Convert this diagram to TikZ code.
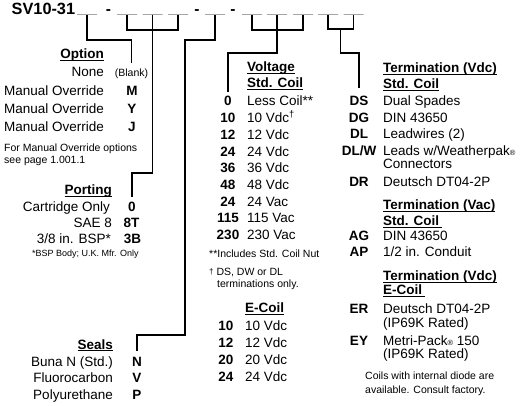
\documentclass[tikz,border=0pt]{standalone}
\usepackage{fontspec}
\setmainfont{Liberation Sans}
\usepackage{tikz}
\usetikzlibrary{calc}

% bold heading with a rule close under the baseline
\newcommand\uln[1]{\setbox0\hbox{#1}\rlap{\rule[-2.4pt]{\wd0}{1.2pt}}\box0}

\tikzset{
  % --- Ma dat hang ------------------------------------------
  partno/.style={anchor=base west, inner sep=0pt,
    font=\bfseries\fontsize{16.3}{19}\selectfont},
  dashmark/.style={anchor=base, inner sep=0pt,
    font=\bfseries\fontsize{15.5}{18}\selectfont},
  blank/.style={draw, line width=1pt, minimum width=20pt,
    minimum height=0pt, inner sep=0pt, outer sep=0pt},
  lead/.style={line width=1.2pt},
  % --- Bang tra ---------------------------------------------
  hdrl/.style={anchor=base east, inner sep=0pt,
    font=\bfseries\fontsize{13.5}{16}\selectfont},
  hdrr/.style={anchor=base west, inner sep=0pt,
    font=\bfseries\fontsize{13.5}{16}\selectfont},
  lab/.style={anchor=base east, inner sep=0pt,
    font=\fontsize{13.5}{16}\selectfont},
  desc/.style={anchor=base west, inner sep=0pt,
    font=\fontsize{13.5}{16}\selectfont},
  code/.style={anchor=base, inner sep=0pt,
    font=\bfseries\fontsize{13.5}{16}\selectfont},
  note/.style={anchor=base west, inner sep=0pt,
    font=\fontsize{10.5}{12}\selectfont},
  notes/.style={anchor=base west, inner sep=0pt,
    font=\fontsize{9}{11}\selectfont}
}

\begin{document}
\begin{tikzpicture}[x=1pt, y=-1pt]
  \useasboundingbox (0,0) rectangle (520,406);

  % ---------- Ma san pham ----------
  \node[partno] (pn) at (11.5,15) {SV10-31};
  \node[blank] (o1) at (87,15) {};
  \node[dashmark] (d1) at (108.5,14.5) {-};
  \node[blank] (p1) at (127,15) {};
  \node[blank] (p2) at (152.5,15) {};
  \node[blank] (p3) at (178,15) {};
  \node[dashmark] (d2) at (197,14.5) {-};
  \node[blank] (s1) at (215,15) {};
  \node[dashmark] (d3) at (233,14.5) {-};
  \node[blank] (v1) at (252,15) {};
  \node[blank] (v2) at (277,15) {};
  \node[blank] (v3) at (303,15) {};
  \node[blank] (t1) at (328,15) {};
  \node[blank] (t2) at (353.5,15) {};

  % ---------- Option ----------
  \node[hdrl] (oh) at (104,59) {\uln{Option}};
  \node[lab] (ol0) at (104,77) {None};
  \node[code, font=\fontsize{10.5}{12}\selectfont] (oc0) at (131.5,77) {(Blank)};
  \foreach \c [count=\i] in {M, Y, J}{
    \node[lab] (ol\i) at (104,78+18*\i) {Manual Override};
    \node[code] (oc\i) at (132,78+18*\i) {\c};
  }
  \node[note] (on1) at (4,152) {For Manual Override options};
  \node[note] (on2) at (4,164) {see page 1.001.1};

  % ---------- Porting ----------
  \node[hdrl] (ph) at (112,195) {\uln{Porting}};
  \node[lab] (pl1) at (110,212) {Cartridge Only};
  \node[code] (pc1) at (132,212) {0};
  \node[lab] (pl2) at (112,228) {SAE 8};
  \node[code] (pc2) at (131.5,228) {8T};
  \node[lab] (pl3) at (111,244) {3/8 in. BSP*};
  \node[code] (pc3) at (132.5,244) {3B};
  \node[notes] (pn1) at (32,257) {*BSP Body; U.K. Mfr. Only};

  % ---------- Seals ----------
  \node[hdrl] (sh) at (113,349) {\uln{Seals}};
  \foreach \l/\c [count=\i] in {Buna N (Std.)/N, Fluorocarbon/V, Polyurethane/P}{
    \node[lab] (sl\i) at (113,349.5+16.6*\i) {\l};
    \node[code] (sc\i) at (137,349.5+16.6*\i) {\c};
  }

  % ---------- Voltage ----------
  \node[hdrr] (vh1) at (247,72) {\uln{Voltage}};
  \node[hdrr] (vh2) at (247,88) {\uln{Std. Coil}};
  \foreach \c/\d [count=\i from 0] in {0/Less Coil**, 10/10 Vdc\textsuperscript{†},
      12/12 Vdc, 24/24 Vdc, 36/36 Vdc, 48/48 Vdc, 24/24 Vac, 115/115 Vac,
      230/230 Vac}{
    \node[code] (vc\i) at (228,106+16.67*\i) {\c};
    \node[desc] (vd\i) at (247,106+16.67*\i) {\d};
  }
  \node[note] (vn1) at (209,258) {**Includes Std. Coil Nut};
  \node[note] (vn2) at (209,276) {{\fontsize{8}{9}\selectfont\raisebox{1pt}{†}} DS, DW or DL};
  \node[note] (vn3) at (217,288) {terminations only.};

  % ---------- E-Coil ----------
  \node[hdrr] (eh) at (245,313) {\uln{E-Coil}};
  \foreach \c [count=\i from 0] in {10, 12, 20, 24}{
    \node[code] (ec\i) at (226,331+16.67*\i) {\c};
    \node[desc] (ed\i) at (245,331+16.67*\i) {\c\ Vdc};
  }

  % ---------- Termination ----------
  \node[hdrr] (th1) at (383,72.5) {\uln{Termination (Vdc)}};
  \node[hdrr] (th2) at (383,88.5) {\uln{Std. Coil}};
  \node[code] (tc1) at (359,106) {DS};
  \node[desc] (td1) at (383,106) {Dual Spades};
  \node[code] (tc2) at (359,123) {DG};
  \node[desc] (td2) at (383,123) {DIN 43650};
  \node[code] (tc3) at (359,139) {DL};
  \node[desc] (td3) at (383,139) {Leadwires (2)};
  \node[code] (tc4) at (359,156) {DL/W};
  \node[desc] (td4) at (383,156)
    {Leads w/Weatherpak{\fontsize{7.5}{8}\selectfont ®}};
  \node[desc] (td4b) at (383,169) {Connectors};
  \node[code] (tc5) at (359,187) {DR};
  \node[desc] (td5) at (383,187) {Deutsch DT04-2P};

  \node[hdrr] (th3) at (383,210) {\uln{Termination (Vac)}};
  \node[hdrr] (th4) at (383,226) {\uln{Std. Coil\hspace{3pt}}};
  \node[code] (tc6) at (359,240.5) {AG};
  \node[desc] (td6) at (383,240.5) {DIN 43650};
  \node[code] (tc7) at (359,257) {AP};
  \node[desc] (td7) at (383,257) {1/2 in. Conduit};

  \node[hdrr] (th5) at (383,280.5) {\uln{Termination (Vdc)}};
  \node[hdrr] (th6) at (383,295) {\uln{E-Coil\hspace{3pt}}};
  \node[code] (tc8) at (359,314) {ER};
  \node[desc] (td8) at (383,314) {Deutsch DT04-2P};
  \node[desc] (td8b) at (383,328) {(IP69K Rated)};
  \node[code] (tc9) at (359,345) {EY};
  \node[desc] (td9) at (383,345)
    {Metri-Pack{\fontsize{7.5}{8}\selectfont ®} 150};
  \node[desc] (td9b) at (383,359) {(IP69K Rated)};
  \node[note] (tn1) at (365,380) {Coils with internal diode are};
  \node[note] (tn2) at (365,393) {available. Consult factory.};

  % ---------- Duong dan ----------
  \draw[lead] (o1.south) -- ++(0,25) -| ([yshift=6.5pt]oc0.north);
  \draw[lead] (p1.south) -- ++(0,15) -| (p3.south);
  \draw[lead] (p2.south) -- ++(0,158) -| ([yshift=5pt]pc1.north);
  \draw[lead] (s1.south) -- ++(0,25) -- ++(-30,0) -- ++(0,295)
    -| ([yshift=6pt]sc1.north);
  \draw[lead] (v1.south) -- ++(0,15) -| (v3.south);
  \draw[lead] (v2.south) -- ++(0,38) -| ([yshift=4pt]vc0.north);
  \draw[lead] (t1.south) -- ++(0,14) -| (t2.south);
  \coordinate (tm) at ($(t1.south)!.5!(t2.south)+(0,14)$);
  \draw[lead] (tm) -- ++(0,24) -| ([yshift=8pt]tc1.north);

\end{tikzpicture}
\end{document}
